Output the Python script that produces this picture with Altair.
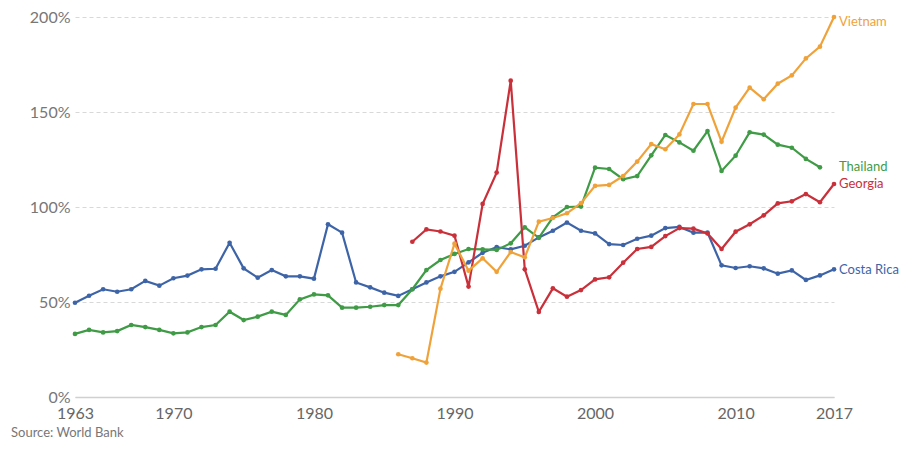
import altair as alt
import pandas as pd

costa_rica_years = list(range(1963, 2018))
costa_rica = [49.6, 53.3, 56.7, 55.4, 56.7, 61.1, 58.6, 62.5, 63.9, 67.2,
              67.5, 81.2, 67.7, 62.8, 66.8, 63.5, 63.5, 62.3, 90.9, 86.5,
              60.3, 57.7, 54.9, 53.2, 56.7, 60.3, 63.5, 65.9, 70.9, 75.9,
              78.9, 77.7, 79.6, 84.0, 87.5, 91.8, 87.5, 86.1, 80.5, 80.0,
              83.3, 84.9, 88.9, 89.5, 86.5, 86.5, 69.3, 67.9, 68.8, 67.7,
              64.9, 66.6, 61.6, 64.0, 67.2]

thailand_years = list(range(1963, 2017))
thailand = [33.2, 35.3, 34.0, 34.7, 37.9, 36.8, 35.3, 33.5, 34.0, 36.8,
            37.9, 44.9, 40.5, 42.3, 44.9, 43.2, 51.4, 54.0, 53.5, 47.0,
            47.0, 47.5, 48.4, 48.4, 56.7, 66.8, 72.1, 75.3, 77.9, 77.7,
            77.4, 80.9, 89.3, 83.8, 94.6, 100.0, 100.2, 120.7, 120.0, 114.6,
            116.3, 127.2, 137.9, 134.0, 129.6, 140.0, 119.0, 127.0, 139.3, 138.1,
            132.8, 131.2, 125.3, 120.9]

georgia_years = list(range(1987, 2018))
georgia = [81.7, 88.2, 87.1, 84.9, 58.1, 101.6, 118.1, 166.5, 67.2, 44.8,
           57.2, 52.8, 56.3, 61.9, 63.0, 70.7, 77.9, 79.0, 84.7, 88.9,
           88.6, 86.1, 77.9, 87.0, 90.9, 95.6, 101.9, 103.0, 106.8, 102.5,
           112.1]

vietnam_years = list(range(1986, 2018))
vietnam = [22.5, 20.4, 18.1, 57.0, 80.7, 66.5, 73.0, 65.9, 76.3, 73.5,
           92.3, 94.2, 96.7, 102.0, 111.1, 111.6, 116.3, 123.9, 133.1, 130.4,
           138.2, 154.2, 154.2, 134.4, 152.3, 162.8, 156.7, 164.9, 169.3, 178.2,
           184.4, 200.0]

countries = ["Vietnam", "Thailand", "Georgia", "Costa Rica"]
colors = ["#F0A23A", "#3F9B45", "#C9303A", "#3E64A8"]
label_values = [197.5, 121.0, 112.0, 67.0]
x_ticks = [1963, 1970, 1980, 1990, 2000, 2010, 2017]
y_ticks = [0, 50, 100, 150, 200]

rows = []
for name, yrs, vals in [("Costa Rica", costa_rica_years, costa_rica),
                        ("Thailand", thailand_years, thailand),
                        ("Georgia", georgia_years, georgia),
                        ("Vietnam", vietnam_years, vietnam)]:
    for y, v in zip(yrs, vals):
        rows.append({"country": name, "year": y, "value": v})
df = pd.DataFrame(rows)

labels = pd.DataFrame({"country": countries, "year": [2017] * 4, "value": label_values})

xs = alt.Scale(domain=[1963, 2017], nice=False, zero=False)
ys = alt.Scale(domain=[0, 200], nice=False)
cs = alt.Scale(domain=countries, range=colors)

lines = alt.Chart(df).mark_line(strokeWidth=2.2, point=alt.OverlayMarkDef(size=22, filled=True)).encode(
    x=alt.X("year:Q", scale=xs, title=None,
            axis=alt.Axis(values=x_ticks, format="d", grid=False, ticks=False,
                          domain=True, domainColor="#d0d0d0", domainWidth=1.5,
                          labelColor="#666666", labelFontSize=16, labelPadding=8,
                          labelFlush=False, labelFont="Lato")),
    y=alt.Y("value:Q", scale=ys, title=None,
            axis=alt.Axis(values=y_ticks, labelExpr="datum.value + '%'", grid=True,
                          gridDash=[4, 3], gridColor="#d8d8d8", ticks=False, domain=False,
                          labelColor="#777777", labelFontSize=16, labelPadding=5,
                          labelFlush=False, labelFont="Lato")),
    color=alt.Color("country:N", scale=cs, legend=None),
    detail="country:N",
)

texts = alt.Chart(labels).mark_text(align="left", baseline="middle", dx=5, fontSize=13, font="Lato").encode(
    x=alt.X("year:Q", scale=xs),
    y=alt.Y("value:Q", scale=ys),
    text="country:N",
    color=alt.Color("country:N", scale=cs, legend=None),
)

source = alt.Chart(pd.DataFrame({"t": ["Source: World Bank"]})).mark_text(
    align="left", baseline="middle", fontSize=13, font="Lato", color="#777777"
).encode(x=alt.value(-64), y=alt.value(416), text="t:N")

chart = alt.layer(lines, texts, source).properties(
    width=759, height=380,
    autosize=alt.AutoSizeParams(type="none"),
    padding={"left": 67, "top": 9, "right": 66, "bottom": 44},
).configure(font="Lato").configure_view(stroke=None)

chart.save("out.html", embed_options={"renderer": "svg", "actions": False})
